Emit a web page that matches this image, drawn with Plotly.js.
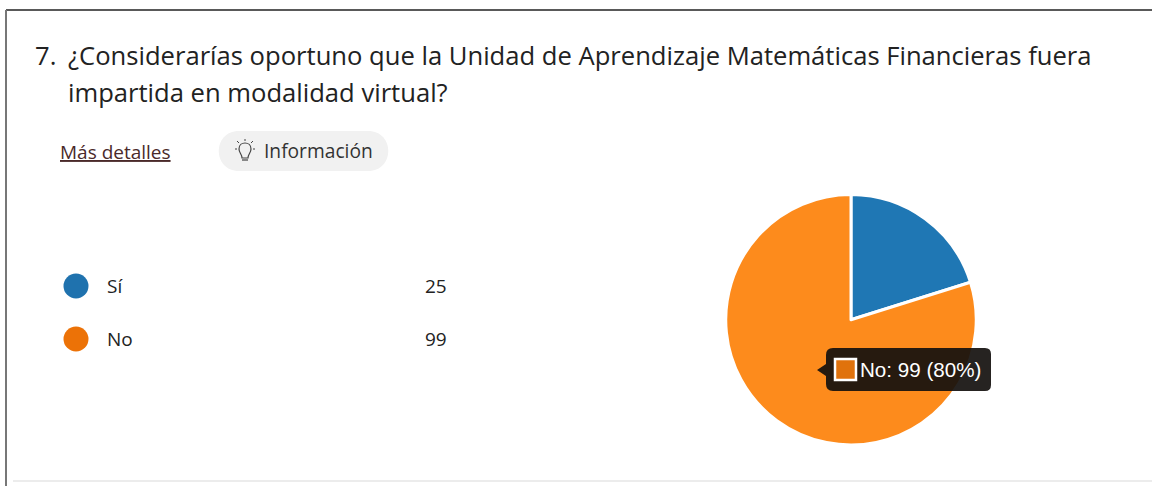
<!DOCTYPE html>
<html><head><meta charset="utf-8">
<script src="https://cdn.plot.ly/plotly-3.0.0.min.js"></script>
<style>html,body{margin:0;padding:0;background:#fff}#c{width:1152px;height:486px}</style></head>
<body><div id="c"></div>
<script>
const categories = ["Sí", "No"];
const counts = [25, 99];
const sliceColors = ["#1f77b4", "#fd8b1c"];
const keyColors = ["#1f72ae", "#ec7207"];
const titleLines = ["¿Considerarías oportuno que la Unidad de Aprendizaje Matemáticas Financieras fuera", "impartida en modalidad virtual?"];
const W = 1152, H = 486;
const F = '"Open Sans", "Noto Sans", sans-serif';
const ink = "#222";
const note = (x, y, text, size, extra) => Object.assign({xref:"x", yref:"y", x, y, text, showarrow:false,
  xanchor:"left", yanchor:"middle", font:{family:F, size, color:ink}}, extra || {});
const total = counts[0] + counts[1];
const tipText = categories[1] + ": " + counts[1] + " (" + Math.round(100 * counts[1] / total) + "%)";

const annotations = [
  note(33, 55, "7.", 25.6),
  note(66, 55, titleLines[0], 25.6),
  note(66, 92, titleLines[1], 25.6),
  note(58, 152, "<u>Más detalles</u>", 19, {font:{family:F, size:19, color:"#4a2a2a"}}),
  note(262, 150, "Información", 19.2, {font:{family:F, size:19.2, color:"#333"}}),
  note(105, 286, categories[0], 19),
  note(105, 339, categories[1], 19),
  note(449, 286, String(counts[0]), 19, {xanchor:"right"}),
  note(449, 339, String(counts[1]), 19, {xanchor:"right"}),
  note(858, 369, tipText, 20.6, {font:{family:'"Liberation Sans", Arial, sans-serif', size:20.6, color:"#fff"}})
];
const shapes = [
  {type:"line", x0:6, x1:1152, y0:10, y1:10, line:{color:"#222", width:1.5}},
  {type:"line", x0:6, x1:6, y0:10, y1:486, line:{color:"#777", width:2}},
  {type:"line", x0:13, x1:1152, y0:481, y1:481, line:{color:"#ececec", width:2}},
  {type:"path", path:"M 239 131 H 368 C 395 131 395 171 368 171 H 239 C 212 171 212 131 239 131 Z", fillcolor:"#f1f1f1", line:{width:0}},
  // bulb icon
  {type:"path", path:"M 242 158 C 242 154 239 153 239 149 C 239 141 251 141 251 149 C 251 153 248 154 248 158 Z", fillcolor:"rgba(0,0,0,0)", line:{color:"#444", width:1.2}},
  {type:"line", x0:242, x1:248, y0:160, y1:160, line:{color:"#444", width:1.2}},
  {type:"line", x0:245, x1:245, y0:139, y1:141, line:{color:"#444", width:1}},
  {type:"line", x0:237, x1:239, y0:141, y1:143, line:{color:"#444", width:1}},
  {type:"line", x0:253, x1:251, y0:141, y1:143, line:{color:"#444", width:1}},
  {type:"line", x0:235, x1:237, y0:149, y1:149, line:{color:"#444", width:1}},
  {type:"line", x0:253, x1:255, y0:149, y1:149, line:{color:"#444", width:1}},
  // tooltip
  {type:"path", path:"M 833 348 H 985 Q 991 348 991 354 V 385 Q 991 391 985 391 H 833 Q 826 391 826 384 V 376 L 817 370 L 826 364 V 355 Q 826 348 833 348 Z",
   fillcolor:"rgba(20,16,14,0.92)", line:{width:0}},
  {type:"rect", x0:835, x1:856, y0:359, y1:380, fillcolor:"#e0720c", line:{color:"#fff", width:2.5}}
];
const data = [
  {type:"pie", labels:categories, values:counts, sort:false, direction:"clockwise", rotation:0,
   marker:{colors:sliceColors, line:{color:"#fff", width:3}}, textinfo:"none", hoverinfo:"none", showlegend:false,
   domain:{x:[724.5/W, 977.5/W], y:[1-445/H, 1-194.5/H]}},
  {type:"scatter", mode:"markers", x:[76, 76], y:[286, 339], xaxis:"x", yaxis:"y", hoverinfo:"none", showlegend:false,
   marker:{size:25, color:keyColors, line:{width:0}}}
];
const layout = {
  width:W, height:H, margin:{l:0, r:0, t:0, b:0}, paper_bgcolor:"#fff", plot_bgcolor:"rgba(0,0,0,0)", showlegend:false,
  xaxis:{range:[0, W], visible:false, fixedrange:true},
  yaxis:{range:[H, 0], visible:false, fixedrange:true},
  annotations, shapes
};
Plotly.newPlot("c", data, layout, {displayModeBar:false, staticPlot:true});
</script></body></html>
